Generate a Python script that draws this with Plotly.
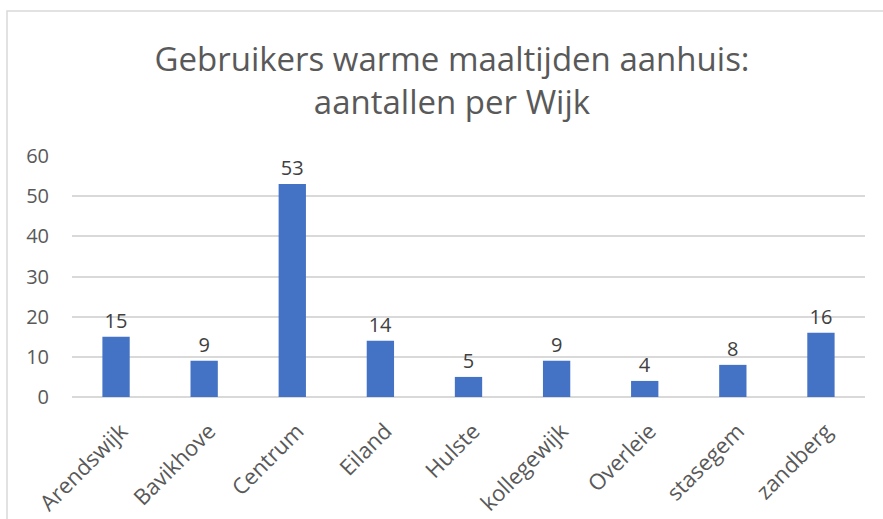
import plotly.graph_objects as go

wijken = ["Arendswijk", "Bavikhove", "Centrum", "Eiland", "Hulste",
          "kollegewijk", "Overleie", "stasegem", "zandberg"]
aantallen = [15, 9, 53, 14, 5, 9, 4, 8, 16]
y_ticks = [0, 10, 20, 30, 40, 50, 60]

W, H = 883, 519
ml, mr, mt, mb = 72, 18, 156, 122

fig = go.Figure(go.Bar(
    x=wijken, y=aantallen,
    marker=dict(color="#4472C4", line=dict(width=0)),
    text=aantallen, textposition="outside",
    textfont=dict(family="Open Sans", size=20, color="#404040"),
    cliponaxis=False, width=0.31,
))

pw = W - ml - mr
ph = H - mt - mb
fig.add_shape(type="rect", xref="paper", yref="paper",
              x0=(7 - ml) / pw, x1=(W + 15 - ml) / pw,
              y0=(H - mb - (H + 5)) / ph, y1=(H - mb - 11) / ph,
              line=dict(color="#D9D9D9", width=1.5), layer="below")

fig.update_layout(
    width=W, height=H,
    margin=dict(l=ml, r=mr, t=mt, b=mb, pad=0, autoexpand=False),
    paper_bgcolor="white", plot_bgcolor="white",
    title=dict(text="Gebruikers warme maaltijden aanhuis:<br>aantallen per Wijk",
               x=452 / W, xanchor="center", xref="container",
               y=1 - 71 / H, yanchor="middle", yref="container",
               font=dict(family="Open Sans", size=33, color="#595959")),
    showlegend=False,
    xaxis=dict(tickangle=-45, tickfont=dict(family="Open Sans", size=22, color="#595959"),
               showgrid=False, showline=False, ticks="", range=[-0.5, 8.5],
               automargin=False, ticklabelstandoff=16, ticklabelshift=5),
    yaxis=dict(range=[0, 60], tickvals=y_ticks, showgrid=True, gridcolor="#D9D9D9",
               gridwidth=1.5, zeroline=True, zerolinecolor="#D9D9D9", zerolinewidth=1.5,
               tickfont=dict(family="Open Sans", size=20, color="#595959"), ticks="",
               ticklabelstandoff=22, automargin=False),
)

fig.write_html("out.html", config={"displayModeBar": False},
               post_script="document.body.style.margin='0';document.body.style.overflow='hidden';")
